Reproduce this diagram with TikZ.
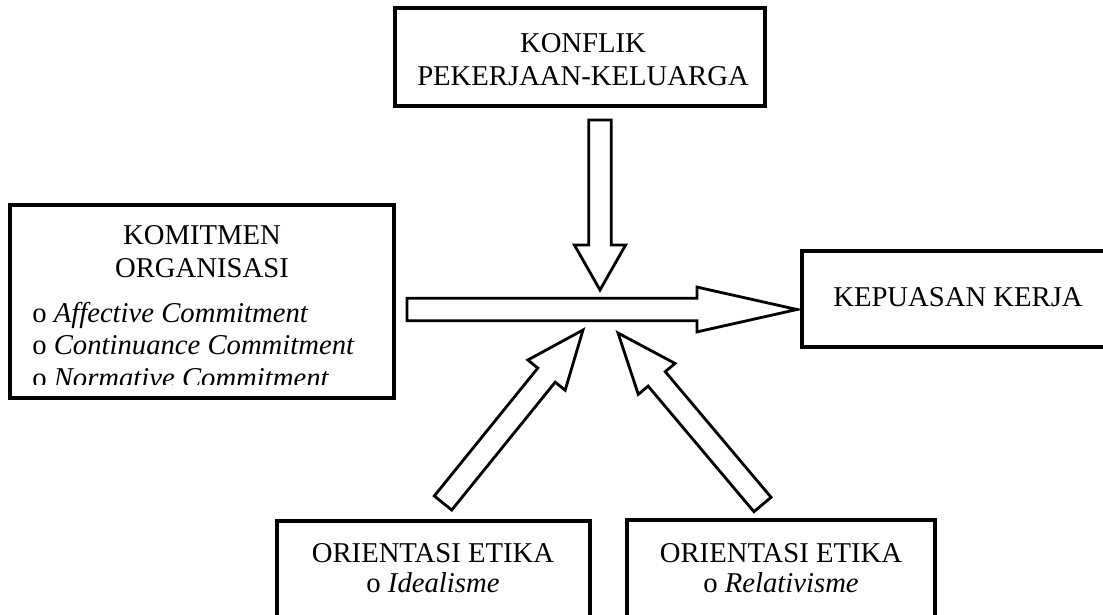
\documentclass[tikz,border=0pt]{standalone}
\usepackage{fontspec}
\setmainfont{Liberation Serif}
\usetikzlibrary{calc, positioning}

\newcommand{\shaftw}{0.28cm}
% block arrow: tail, tip, head length, head half width
\newcommand{\fatarrow}[4]{%
  \coordinate (hb) at ($(#2)!#3!(#1)$);
  \draw[fat] ($(#1)!\shaftw!90:(#2)$) -- ($(hb)!\shaftw!90:(#2)$) -- ($(hb)!#4!90:(#2)$) -- (#2)
    -- ($(hb)!#4!-90:(#2)$) -- ($(hb)!\shaftw!-90:(#2)$) -- ($(#1)!\shaftw!-90:(#2)$) -- cycle;
}

\begin{document}
\begin{tikzpicture}[x=0.025cm, y=-0.025cm,
        boks/.style={draw, line width=2.4pt, rectangle, inner sep=0pt},
        fat/.style={draw, fill=white, line width=2pt, line join=miter},
        txt/.style={font=\fontsize{20.4}{23.5}\selectfont, align=center, inner sep=0pt},
        lst/.style={font=\fontsize{20.4}{22.8}\selectfont, align=left, inner sep=0pt}
      ]
        \useasboundingbox (0,0) rectangle (1103,615);
        \clip (0,0) rectangle (1103,615);
        % boxes
        \node[boks, minimum width=9.25cm, minimum height=2.45cm] (konflik) at (580,57) {};
        \node[boks, minimum width=9.6cm, minimum height=4.825cm] (komitmen) at (202,301.5) {};
        \node[boks, minimum width=7.825cm, minimum height=2.4cm] (kepuasan) at (958.5,299) {};
        \node[boks, minimum width=7.825cm, minimum height=2.975cm] (ideal) at (433.5,580.5) {};
        \node[boks, minimum width=7.7cm, minimum height=3cm] (relat) at (781,580) {};
        % texts
        \node[txt] (konfliktxt) at (583,60) {KONFLIK\\PEKERJAAN-KELUARGA};
        \node[txt] (komhead) at (202,251.5) {KOMITMEN\\ORGANISASI};
        \begin{scope}
          \clip (0,0) rectangle (400,385);
          \node[lst, anchor=west] (komlist) at (32,345) {o \textit{Affective Commitment}\\o \textit{Continuance Commitment}\\o \textit{Normative Commitment}};
        \end{scope}
        \node[txt] (kepuasantxt) at (958,297) {KEPUASAN KERJA};
        \node[txt, font=\fontsize{20.4}{21.5}\selectfont] (idealtxt) at (433,568) {ORIENTASI ETIKA\\o \textit{Idealisme}};
        \node[txt, font=\fontsize{20.4}{21.5}\selectfont] (relattxt) at (781,568) {ORIENTASI ETIKA\\o \textit{Relativisme}};
        % arrows
        \coordinate (kt) at (600,120);   \coordinate (kh) at (600,290);
        \coordinate (mt) at (407,309.5); \coordinate (mh) at (797,309.5);
        \coordinate (it) at (443,503);   \coordinate (ih) at (583,330);
        \coordinate (rt) at (762.5,504.5); \coordinate (rh) at (618,333);
        \fatarrow{kt}{kh}{1.125cm}{0.64cm}
        \fatarrow{mt}{mh}{2.5cm}{0.56cm}
        \fatarrow{it}{ih}{1.45cm}{0.6cm}
        \fatarrow{rt}{rh}{1.5cm}{0.6cm}
      \end{tikzpicture}
\end{document}
